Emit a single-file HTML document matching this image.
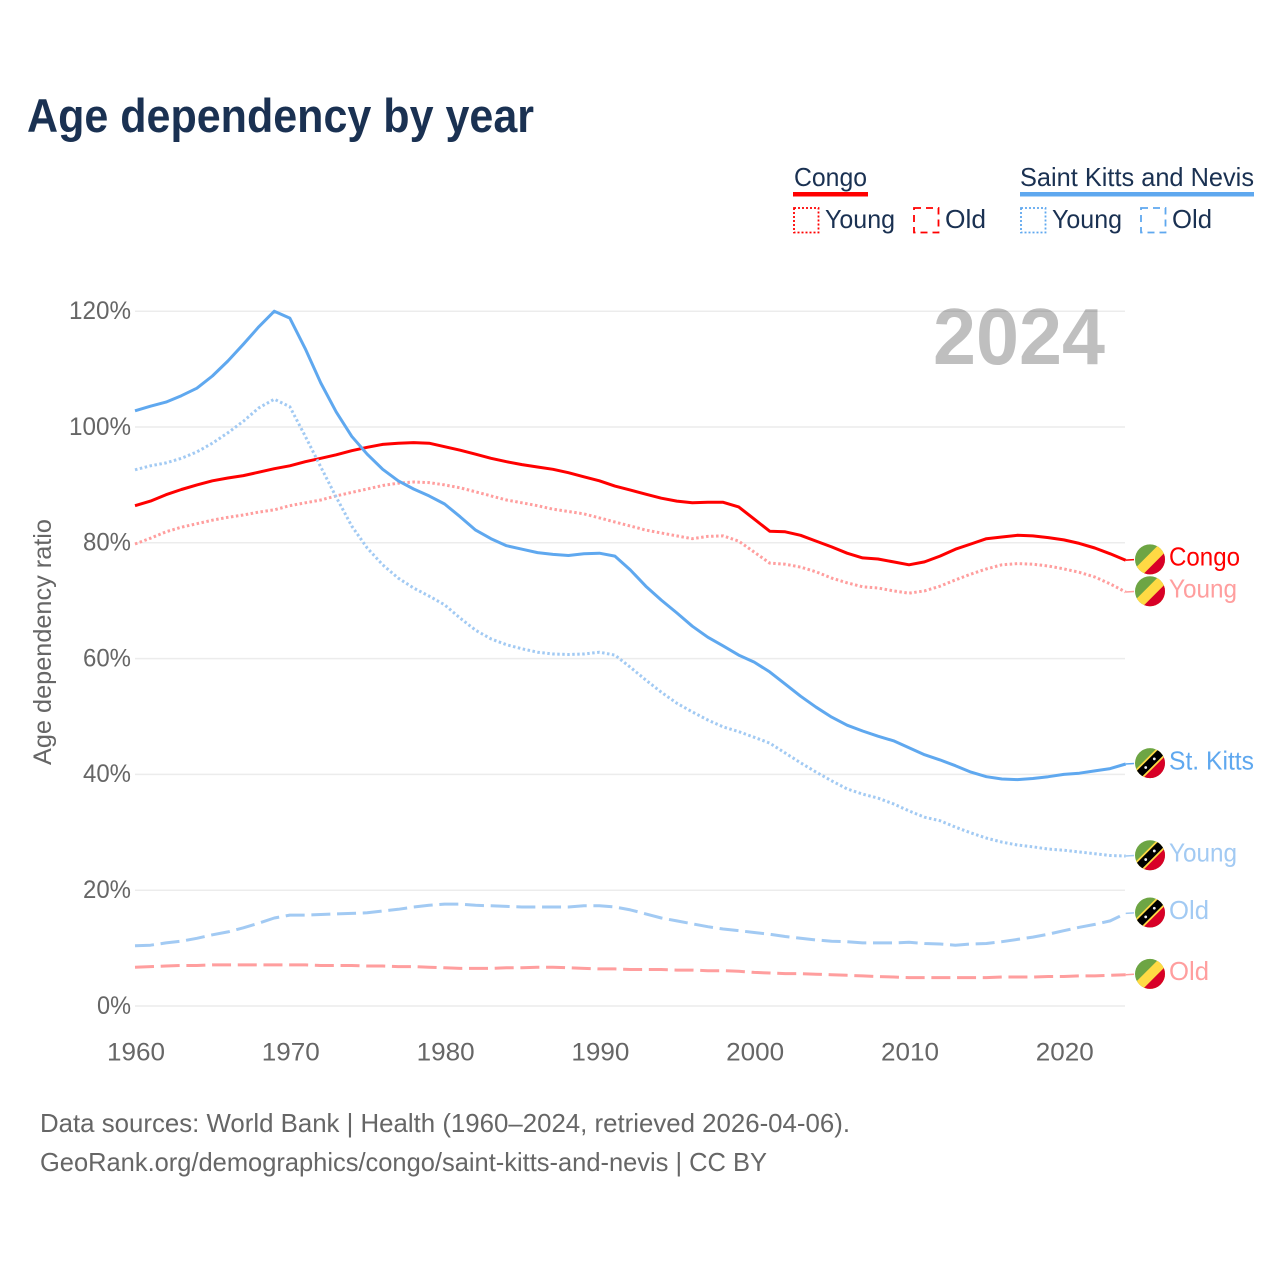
<!DOCTYPE html>
<html lang="en">
<head>
<meta charset="utf-8">
<title>Age dependency by year</title>
<style>
html,body{margin:0;padding:0;background:#fff;}
svg{display:block;}
text{font-family:"Liberation Sans",sans-serif;}
.leg{font-size:26px;fill:#1a3152;}
.foot{font-size:26px;fill:#666;}
</style>
</head>
<body>
<svg id="chart" xmlns="http://www.w3.org/2000/svg" width="1280" height="1280" viewBox="0 0 1280 1280">
  <defs>
    <clipPath id="flag-clip"><circle cx="0" cy="0" r="15"></circle></clipPath>
    <g id="flag-congo" clip-path="url(#flag-clip)">
      <rect x="-16" y="-16" width="32" height="32" fill="#6da544"></rect>
      <polygon points="10,-16 16,-16 16,16 -16,16 -16,10" fill="#ffda44"></polygon>
      <polygon points="16,-8 16,16 -8,16" fill="#d80027"></polygon>
    </g>
    <g id="flag-kitts" clip-path="url(#flag-clip)">
      <rect x="-16" y="-16" width="32" height="32" fill="#6da544"></rect>
      <polygon points="16,-10 16,16 -10,16" fill="#d80027"></polygon>
      <polygon points="8,-16 16,-16 16,-8 -8,16 -16,16 -16,8" fill="#ffda44"></polygon>
      <polygon points="10.5,-16 16,-16 16,-10.5 -10.5,16 -16,16 -16,10.5" fill="#000"></polygon>
      <circle cx="4.3" cy="-4.3" r="1.4" fill="#f0f0f0"></circle>
      <circle cx="-4.3" cy="4.3" r="1.4" fill="#f0f0f0"></circle>
    </g>
  </defs>

  <text x="27" y="132" font-size="47" font-weight="700" fill="#1a3152" textLength="507" lengthAdjust="spacingAndGlyphs">Age dependency by year</text>

  <g>
    <text class="leg" x="794" y="186" textLength="73" lengthAdjust="spacingAndGlyphs">Congo</text>
    <rect x="793" y="192" width="75" height="4.5" fill="#ff0000"></rect>
    <rect x="794" y="208" width="24.5" height="24.5" fill="none" stroke="#ff0000" stroke-width="1.8" stroke-dasharray="2 2"></rect>
    <text class="leg" x="825" y="228" textLength="70" lengthAdjust="spacingAndGlyphs">Young</text>
    <rect x="914" y="208" width="24.5" height="24.5" fill="none" stroke="#ff0000" stroke-width="1.8" stroke-dasharray="7 5"></rect>
    <text class="leg" x="945" y="228" textLength="41" lengthAdjust="spacingAndGlyphs">Old</text>

    <text class="leg" x="1020" y="186" textLength="234" lengthAdjust="spacingAndGlyphs">Saint Kitts and Nevis</text>
    <rect x="1020" y="192" width="234" height="4.5" fill="#5fa8ef"></rect>
    <rect x="1021" y="208" width="24.5" height="24.5" fill="none" stroke="#5fa8ef" stroke-width="1.8" stroke-dasharray="2 2"></rect>
    <text class="leg" x="1052" y="228" textLength="70" lengthAdjust="spacingAndGlyphs">Young</text>
    <rect x="1141" y="208" width="24.5" height="24.5" fill="none" stroke="#5fa8ef" stroke-width="1.8" stroke-dasharray="7 5"></rect>
    <text class="leg" x="1172" y="228" textLength="40" lengthAdjust="spacingAndGlyphs">Old</text>
  </g>

  <g id="grid"></g>
  <g id="yticks"></g>
  <g id="xticks"></g>

  <text transform="translate(51,765) rotate(-90)" font-size="25" fill="#666" textLength="246" lengthAdjust="spacingAndGlyphs">Age dependency ratio</text>

  <text x="933" y="364" font-size="80" font-weight="700" fill="#000" fill-opacity="0.25" textLength="172" lengthAdjust="spacingAndGlyphs">2024</text>

  <g id="series"></g>
  <g id="ends"></g>

  <text class="foot" x="40" y="1132" textLength="810" lengthAdjust="spacingAndGlyphs">Data sources: World Bank | Health (1960–2024, retrieved 2026-04-06).</text>
  <text class="foot" x="40" y="1171" textLength="727" lengthAdjust="spacingAndGlyphs">GeoRank.org/demographics/congo/saint-kitts-and-nevis | CC BY</text>
</svg>

<script>
const startYear = 1960;
const yTickValues = [0, 20, 40, 60, 80, 100, 120];
const xTickYears = [1960, 1970, 1980, 1990, 2000, 2010, 2020];

const congoTotal = [
  86.4,87.2,88.3,89.2,90.0,90.7,91.2,91.6,92.2,92.8,
  93.3,94.0,94.6,95.2,95.9,96.5,97.0,97.2,97.3,97.2,
  96.6,96.0,95.3,94.6,94.0,93.5,93.1,92.7,92.1,91.4,
  90.7,89.8,89.1,88.4,87.7,87.2,86.9,87.0,87.0,86.2,
  84.1,82.0,81.9,81.3,80.3,79.3,78.2,77.4,77.2,76.7,
  76.2,76.7,77.7,78.9,79.8,80.7,81.0,81.3,81.2,80.9,
  80.5,79.9,79.1,78.1,77.0];
const congoYoung = [
  79.8,80.8,81.9,82.7,83.3,83.9,84.4,84.8,85.3,85.7,
  86.4,86.9,87.4,88.1,88.7,89.3,89.9,90.3,90.5,90.4,
  90.0,89.5,88.8,88.1,87.4,86.9,86.4,85.8,85.4,85.0,
  84.3,83.6,82.9,82.2,81.7,81.2,80.7,81.1,81.2,80.3,
  78.4,76.5,76.3,75.8,75.0,73.9,73.1,72.4,72.2,71.7,
  71.3,71.7,72.5,73.6,74.6,75.5,76.2,76.4,76.3,76.0,
  75.5,74.9,74.1,72.9,71.5];
const congoOld = [
  6.7,6.8,6.9,7.0,7.0,7.1,7.1,7.1,7.1,7.1,
  7.1,7.1,7.0,7.0,7.0,6.9,6.9,6.8,6.8,6.7,
  6.6,6.5,6.5,6.5,6.6,6.6,6.7,6.7,6.6,6.5,
  6.4,6.4,6.3,6.3,6.3,6.2,6.2,6.1,6.1,6.0,
  5.8,5.7,5.6,5.6,5.5,5.4,5.3,5.2,5.1,5.0,
  4.9,4.9,4.9,4.9,4.9,4.9,5.0,5.0,5.0,5.1,
  5.1,5.2,5.2,5.3,5.4];
const kittsTotal = [
  102.8,103.6,104.3,105.4,106.7,108.8,111.4,114.3,117.3,120.0,
  118.8,113.5,107.6,102.6,98.4,95.3,92.7,90.7,89.3,88.1,
  86.7,84.5,82.2,80.7,79.5,78.9,78.3,78.0,77.8,78.1,
  78.2,77.7,75.3,72.5,70.1,67.9,65.6,63.7,62.2,60.6,
  59.4,57.7,55.6,53.5,51.6,49.9,48.5,47.5,46.6,45.8,
  44.6,43.4,42.5,41.5,40.4,39.6,39.2,39.1,39.3,39.6,
  40.0,40.2,40.6,41.0,41.8];
const kittsYoung = [
  92.6,93.3,93.8,94.6,95.7,97.2,99.0,101.0,103.3,104.8,
  103.5,98.4,93.1,87.9,82.9,79.1,76.2,73.9,72.2,70.8,
  69.3,67.0,64.9,63.4,62.4,61.7,61.1,60.8,60.7,60.8,
  61.1,60.6,58.5,56.3,54.2,52.3,50.8,49.4,48.2,47.4,
  46.4,45.4,43.7,42.0,40.4,38.9,37.5,36.6,35.9,34.9,
  33.7,32.6,32.0,30.9,29.9,29.0,28.3,27.8,27.5,27.1,
  26.9,26.6,26.3,26.0,25.9];
const kittsOld = [
  10.4,10.5,10.9,11.2,11.7,12.3,12.8,13.5,14.3,15.2,
  15.7,15.7,15.8,15.9,16.0,16.1,16.4,16.7,17.1,17.4,
  17.6,17.6,17.4,17.3,17.2,17.1,17.1,17.1,17.1,17.3,
  17.3,17.1,16.6,15.9,15.2,14.7,14.2,13.7,13.3,13.0,
  12.7,12.4,12.0,11.7,11.4,11.2,11.1,10.9,10.9,10.9,
  11.0,10.8,10.7,10.5,10.7,10.8,11.1,11.5,11.9,12.4,
  13.0,13.6,14.1,14.7,16.0];

const SVG_NS = 'http://www.w3.org/2000/svg';
function xScale(year) { return 135 + (year - 1960) * 15.48; }
function yScale(v) { return 1006 - v * 5.79; }
function make(tag, attrs, parent, txt) {
  const el = document.createElementNS(SVG_NS, tag);
  for (const k in attrs) el.setAttribute(k, attrs[k]);
  if (txt !== undefined) el.textContent = txt;
  parent.appendChild(el);
  return el;
}

const gridG = document.getElementById('grid');
const yG = document.getElementById('yticks');
const xG = document.getElementById('xticks');
const seriesG = document.getElementById('series');
const endsG = document.getElementById('ends');

yTickValues.forEach(function (v) {
  const line = make('line', { x1: 135, x2: 1125, y1: yScale(v), y2: yScale(v), stroke: '#ececec', 'stroke-width': 1.5 }, gridG);
  
  
  const label = v + '%';
  const t = make('text', { x: 131, y: yScale(v) + 7.8, 'text-anchor': 'end', 'font-size': 25, fill: '#666', textLength: (label.length - 2) * 14 + 34, lengthAdjust: 'spacingAndGlyphs' }, yG, label);
  
  
});

xTickYears.forEach(function (yr) {
  const t = make('text', { x: xScale(yr) + 1, y: 1060.5, 'text-anchor': 'middle', 'font-size': 25, fill: '#666', textLength: 58, lengthAdjust: 'spacingAndGlyphs' }, xG, String(yr));
  
  
});

const DOT = '2.5 2.5';
const DASH = '19 6.7';
const RED = '#ff0000';
const RED_L = '#ff9e9e';
const BLUE = '#5fa8ef';
const BLUE_L = '#a2caf3';

function drawLine(values, color, dash, width) {
  const pts = values.map(function (v, i) {
    return xScale(startYear + i).toFixed(1) + ',' + yScale(v).toFixed(1);
  }).join(' ');
  const attrs = { points: pts, fill: 'none', stroke: color, 'stroke-width': width, 'stroke-linejoin': 'round' };
  if (dash) attrs['stroke-dasharray'] = dash;
  return make('polyline', attrs, seriesG);
}

function drawEnd(values, color, flag, label, textW) {
  const yEnd = yScale(values[values.length - 1]);
  const xEnd = xScale(startYear + values.length - 1);
  const g = make('g', {}, endsG);
  const conn = make('line', { x1: xEnd, x2: 1134, y1: yEnd, y2: yEnd - 0.5, stroke: color, 'stroke-width': 1.5 }, g);
  
  
  const f = make('use', { href: '#' + flag, transform: 'translate(1150,' + (yEnd - 0.8) + ')' }, g);
  
  
  const t = make('text', { x: 1169, y: yEnd + 5.5, 'font-size': 26, fill: color, textLength: textW, lengthAdjust: 'spacingAndGlyphs' }, g, label);
  
  
}

const l1 = drawLine(congoOld, RED_L, DASH, 3);


const l2 = drawLine(congoYoung, RED_L, DOT, 3);


const l3 = drawLine(congoTotal, RED, null, 3);


const l4 = drawLine(kittsOld, BLUE_L, DASH, 3);


const l5 = drawLine(kittsYoung, BLUE_L, DOT, 3);


const l6 = drawLine(kittsTotal, BLUE, null, 3);



drawEnd(congoTotal, RED, 'flag-congo', 'Congo', 71);
drawEnd(congoYoung, RED_L, 'flag-congo', 'Young', 68);
drawEnd(kittsTotal, BLUE, 'flag-kitts', 'St. Kitts', 85);
drawEnd(kittsYoung, BLUE_L, 'flag-kitts', 'Young', 68);
drawEnd(kittsOld, BLUE_L, 'flag-kitts', 'Old', 40);
drawEnd(congoOld, RED_L, 'flag-congo', 'Old', 40);
</script>
</body>
</html>
